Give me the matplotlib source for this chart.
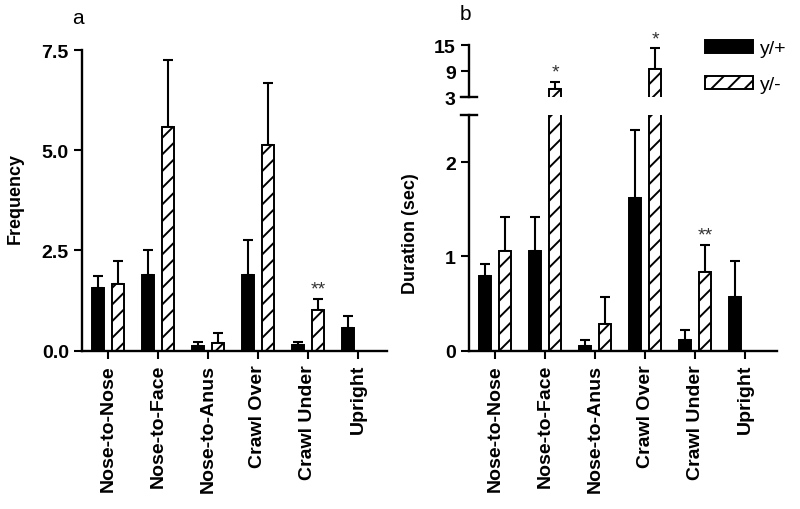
import numpy as np
import matplotlib
matplotlib.use('Agg')
import matplotlib.pyplot as plt

plt.rcParams['font.family'] = ['Liberation Sans', 'DejaVu Sans']
plt.rcParams['font.weight'] = 'bold'
plt.rcParams['hatch.linewidth'] = 1.4

categories = ['Nose-to-Nose', 'Nose-to-Face', 'Nose-to-Anus', 'Crawl Over', 'Crawl Under', 'Upright']
groups = ['y/+', 'y/-']

#Panel a: frequency
freq_wt = [1.56, 1.90, 0.12, 1.90, 0.14, 0.56]
freq_wt_err = [0.30, 0.62, 0.10, 0.87, 0.08, 0.30]
freq_ko = [1.67, 5.58, 0.20, 5.12, 1.02, np.nan]
freq_ko_err = [0.56, 1.66, 0.24, 1.56, 0.27, np.nan]
freq_sig = ['', '', '', '', '**', '']

#Panel b: duration (sec), broken axis
dur_wt = [0.79, 1.06, 0.05, 1.62, 0.11, 0.57]
dur_wt_err = [0.13, 0.36, 0.06, 0.72, 0.11, 0.38]
dur_ko = [1.06, 4.8, 0.28, 9.4, 0.83, np.nan]
dur_ko_err = [0.36, 1.7, 0.29, 4.8, 0.29, np.nan]
dur_sig = ['', '*', '', '*', '**', '']

x = np.arange(len(categories))
off = 0.2
w = 0.25
lw = 1.4


def style_axis(ax):
	for s in ['top', 'right']:
		ax.spines[s].set_visible(False)
	for s in ['left', 'bottom']:
		ax.spines[s].set_linewidth(1.7)
	ax.tick_params(width=1.5, length=6, labelsize=14, direction='out')


def draw_bars(ax, wt, wt_err, ko, ko_err):
	wt = np.array(wt, dtype=float)
	ko = np.array(ko, dtype=float)
	b1 = ax.bar(x - off, wt, w, color='black', edgecolor='black', linewidth=lw, label=groups[0], zorder=2)
	b2 = ax.bar(x + off, ko, w, color='white', edgecolor='black', hatch='//', linewidth=lw, label=groups[1], zorder=2)
	for xs, v, e in [(x - off, wt, wt_err), (x + off, ko, ko_err)]:
		e = np.array(e, dtype=float)
		ax.errorbar(xs, v, yerr=[np.zeros_like(e), e], fmt='none', ecolor='black',
					elinewidth=1.5, capsize=3.6, capthick=1.5, zorder=1)
	return b1, b2


def add_stars(ax, xs, tops, sig):
	for xi, t, s in zip(xs, tops, sig):
		if s:
			ax.annotate(s, (xi, t), xytext=(0, 7), textcoords='offset points',
						ha='center', va='center', fontsize=14, fontweight='normal',
						color='#333333', annotation_clip=False)


fig = plt.figure(figsize=(8, 5.1), dpi=100)

# ---- panel a ----
ax_a = fig.add_axes([0.1025, 0.3104, 0.38125, 0.5896])
draw_bars(ax_a, freq_wt, freq_wt_err, freq_ko, freq_ko_err)
ax_a.set_xlim(-0.52, 5.58)
ax_a.set_ylim(0, 7.5)
ax_a.set_yticks([0, 2.5, 5.0, 7.5])
ax_a.set_yticklabels(['0.0', '2.5', '5.0', '7.5'])
ax_a.set_xticks(x)
ax_a.set_xticklabels(categories, rotation=90)
style_axis(ax_a)
ax_a.set_ylabel('Frequency', fontsize=13, fontweight='bold')
ax_a.yaxis.set_label_coords(-0.19, 0.51)
add_stars(ax_a, x + off, np.array(freq_ko) + np.array(freq_ko_err), freq_sig)

# ---- panel b, lower part ----
lo_max = 2.5
ax_b = fig.add_axes([0.58625, 0.3104, 0.385, 0.4621])
b1, b2 = draw_bars(ax_b, dur_wt, dur_wt_err, dur_ko, dur_ko_err)
ax_b.set_xlim(-0.52, 5.64)
ax_b.set_ylim(0, lo_max)
ax_b.set_yticks([0, 1, 2])
ax_b.set_xticks(x)
ax_b.set_xticklabels(categories, rotation=90)
style_axis(ax_b)
ax_b.set_ylabel('Duration (sec)', fontsize=13, fontweight='bold')
ax_b.yaxis.set_label_coords(-0.163, 0.5)
ax_b.plot([-0.026, 0.026], [1, 1], transform=ax_b.transAxes, color='black', lw=1.7, clip_on=False)

# ---- panel b, upper part ----
ax_t = fig.add_axes([0.58625, 0.8073, 0.385, 0.1025])
draw_bars(ax_t, dur_wt, dur_wt_err, dur_ko, dur_ko_err)
ax_t.set_xlim(-0.52, 5.64)
ax_t.set_ylim(3, 15)
ax_t.set_yticks([3, 9, 15])
ax_t.set_xticks([])
style_axis(ax_t)
ax_t.spines['bottom'].set_visible(False)
ax_t.patch.set_alpha(0)
ax_t.plot([-0.026, 0.026], [0, 0], transform=ax_t.transAxes, color='black', lw=1.7, clip_on=False)

ko_tops = np.array(dur_ko) + np.array(dur_ko_err)
for xi, v, t, s in zip(x + off, dur_ko, ko_tops, dur_sig):
	if s:
		add_stars(ax_t if v > lo_max else ax_b, [xi], [t], [s])

# legend
fig.legend([b1, b2], groups, loc='upper left', bbox_to_anchor=(0.881, 0.92),
		   frameon=False, prop={'weight': 'normal', 'size': 14},
		   handlelength=2.5, handleheight=0.7, labelspacing=0.95,
		   handletextpad=0.35, borderpad=0, borderaxespad=0)

fig.text(78 / 800, 1 - 18 / 510, 'a', fontsize=15, fontweight='normal', ha='center', va='center')
fig.text(465 / 800, 1 - 15 / 510, 'b', fontsize=15, fontweight='normal', ha='center', va='center')

fig.savefig('out.png', dpi=100, facecolor='white')
